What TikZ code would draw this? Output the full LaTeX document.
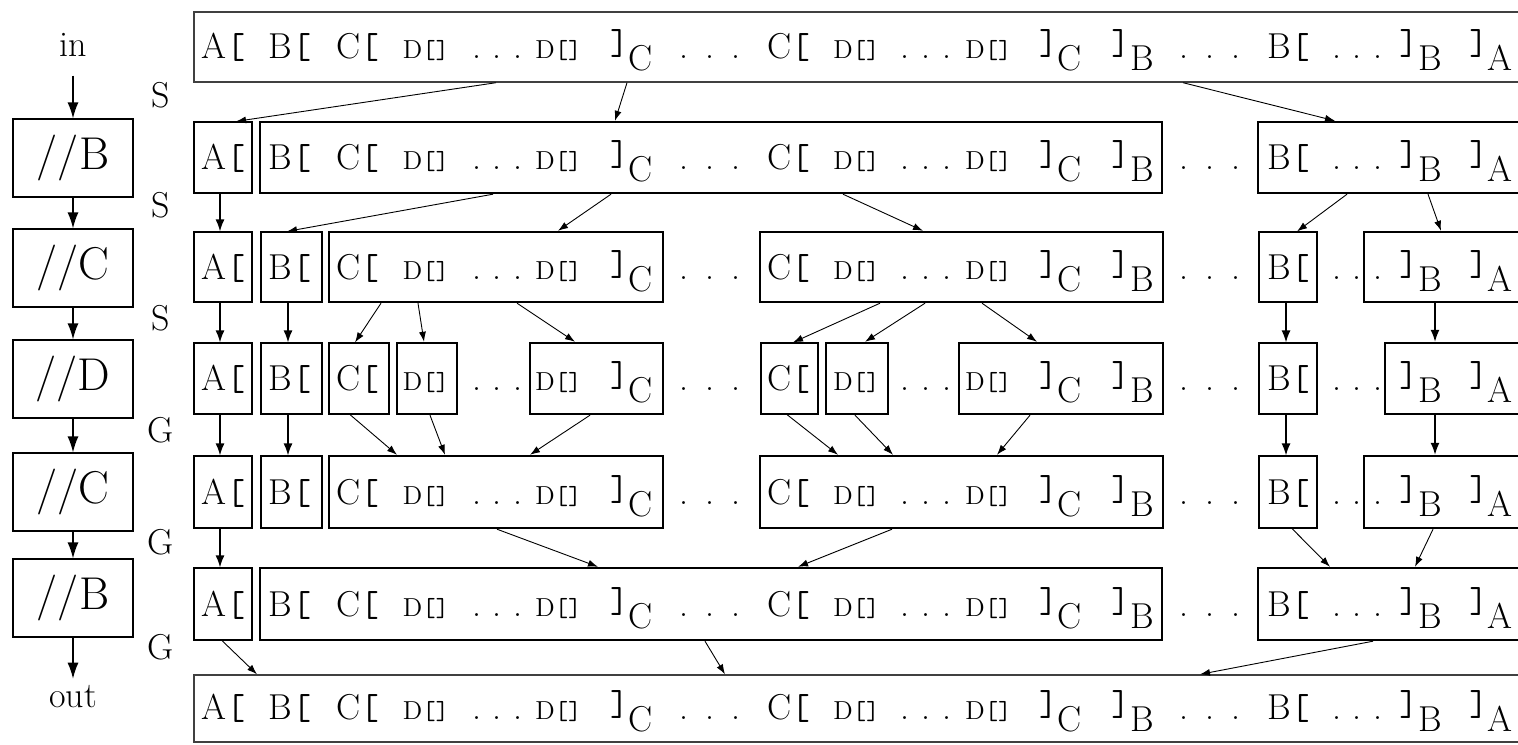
\documentclass[tikz,border=0pt]{standalone}
\usetikzlibrary{arrows.meta,fit}

\newcommand{\opn}[1]{#1\texttt{[}}
\newcommand{\cls}[1]{\raisebox{0.1em}{\texttt{]}}\raisebox{-0.35em}{#1}}
\newcommand{\dlf}{{\fontsize{13}{15}\selectfont D\texttt{[]}}}
\newcommand{\sdots}{\makebox[1.39em]{.\hfill.\hfill.}}
\newcommand{\wdots}{\makebox[1.72em]{.\hfill.\hfill.}}

\begin{document}
\begin{tikzpicture}[x=0.5pt, y=-0.5pt,
    tok/.style={anchor=base, inner sep=0pt, font=\fontsize{18}{21}\selectfont},
    lbl/.style={font=\fontsize{18}{21}\selectfont},
    opbox/.style={draw, line width=0.6pt, minimum width=60pt, minimum height=39pt, font=\fontsize{23}{27}\selectfont},
    thinbox/.style={draw, line width=0.6pt, inner sep=0pt},
    thickbox/.style={draw, line width=1.2pt, inner sep=0pt},
    outbox/.style={draw=black!75, line width=0.7pt, inner sep=0pt},
    arr/.style={-{Latex[length=5pt,width=3.5pt]}, line width=0.45pt},
    varr/.style={-{Latex[length=6pt,width=4.5pt]}, line width=0.7pt},
    bigarr/.style={-{Latex[length=8pt,width=5.5pt]}, line width=0.7pt}]
  \useasboundingbox (0,0) rectangle (1518,744);
  \clip (0,0) rectangle (1518,744);

  % passes on the left
  \node[lbl] (in) at (73,45) {in};
  \node[opbox] (p1) at (73,158) {//B};
  \node[opbox] (p2) at (73,268) {//C};
  \node[opbox] (p3) at (73,379) {//D};
  \node[opbox] (p4) at (73,492) {//C};
  \node[opbox] (p5) at (73,598) {//B};
  \node[lbl] (out) at (73,697) {out};
  \draw[bigarr, shorten <=6pt] (in) -- (p1);
  \foreach \a/\z in {p1/p2, p2/p3, p3/p4, p4/p5, p5/out}
    \draw[bigarr] (\a) -- (\z);
  \foreach \yy/\s [count=\i] in {95/S, 205/S, 318/S, 430/G, 542/G, 647/G}
    \node[lbl] (s\i) at (161,\yy) {\s};

  % the same stream in every row
  \foreach \yy [count=\row from 0] in {58, 169, 279, 390, 504, 616, 719}
    \foreach \xx/\tk [count=\i] in {223.5/\opn{A}, 290/\opn{B}, 357.5/\opn{C}, 426/\dlf,
        497.5/\sdots, 558.5/\dlf, 631.5/\cls{C}, 710/\wdots, 788.5/\opn{C}, 856.5/\dlf,
        926/\sdots, 988.5/\dlf, 1060.5/\cls{C}, 1132.5/\cls{B}, 1210/\wdots,
        1288.5/\opn{B}, 1357/\sdots, 1420.5/\cls{B}, 1491/\cls{A}}
      \node[tok] (t\row-\i) at (\xx,\yy) {\tk};

  % boxes
  \node[outbox, fit={(194,12) (1530,82)}] (r0) {};
  \foreach \row/\ya/\yb in {1/122/193, 5/568/640} {
    \node[thinbox, fit={(194,\ya) (252,\yb)}] (a\row) {};
    \node[thickbox, fit={(260,\ya) (1162,\yb)}] (b\row) {};
    \node[thickbox, fit={(1258,\ya) (1530,\yb)}] (c\row) {};
  }
  \foreach \row/\ya/\yb in {2/232/302, 4/456/528} {
    \node[thinbox, fit={(194,\ya) (252,\yb)}] (a\row) {};
    \node[thinbox, fit={(261,\ya) (322,\yb)}] (b\row) {};
    \node[thickbox, fit={(329,\ya) (663,\yb)}] (c\row) {};
    \node[thickbox, fit={(760,\ya) (1163,\yb)}] (d\row) {};
    \node[thinbox, fit={(1259,\ya) (1317,\yb)}] (e\row) {};
    \node[thickbox, fit={(1364,\ya) (1530,\yb)}] (f\row) {};
  }
  \node[thinbox, fit={(194,343) (252,414)}] (a3) {};
  \node[thinbox, fit={(261,343) (322,414)}] (b3) {};
  \node[thinbox, fit={(329,343) (389,414)}] (c3) {};
  \node[thickbox, fit={(397,343) (457,414)}] (d3) {};
  \node[thickbox, fit={(530,343) (663,414)}] (e3) {};
  \node[thinbox, fit={(761,343) (818,414)}] (f3) {};
  \node[thickbox, fit={(826,343) (888,414)}] (g3) {};
  \node[thickbox, fit={(959,343) (1163,414)}] (h3) {};
  \node[thinbox, fit={(1259,343) (1317,414)}] (i3) {};
  \node[thickbox, fit={(1385,343) (1530,414)}] (j3) {};
  \node[outbox, fit={(194,675) (1530,742)}] (r6) {};

  % straight hand-overs
  \foreach \f/\g/\xx in {a1/a2/220, a2/a3/220, b2/b3/288, e2/i3/1286, f2/j3/1435,
      a3/a4/220, b3/b4/288, i3/e4/1286, j3/f4/1435, a4/a5/220}
    \draw[varr] (\f.south -| \xx,0) -- (\g.north -| \xx,0);
  % split and glue
  \foreach \f/\xa/\g/\xb in {r0/496/a1/236, r0/627/b1/615, r0/1183/c1/1335,
      b1/493/b2/287, b1/611/c2/558, b1/843/d2/923, c1/1347/e2/1297, c1/1428/f2/1441,
      c2/381/c3/355, c2/418/d3/424, c2/517/e3/575, d2/880/f3/793, d2/925/g3/865, d2/982/h3/1037,
      c3/350/c4/397, d3/430/c4/445, e3/590/c4/530, f3/787/d4/838, g3/855/d4/893, h3/1030/d4/997,
      c4/497/b5/598, d4/892/b5/798, e4/1292/c5/1330, f4/1433/c5/1415,
      a5/222/r6/257, b5/705/r6/725, c5/1373/r6/1200}
    \draw[arr] (\f.south -| \xa,0) -- (\g.north -| \xb,0);
\end{tikzpicture}
\end{document}
